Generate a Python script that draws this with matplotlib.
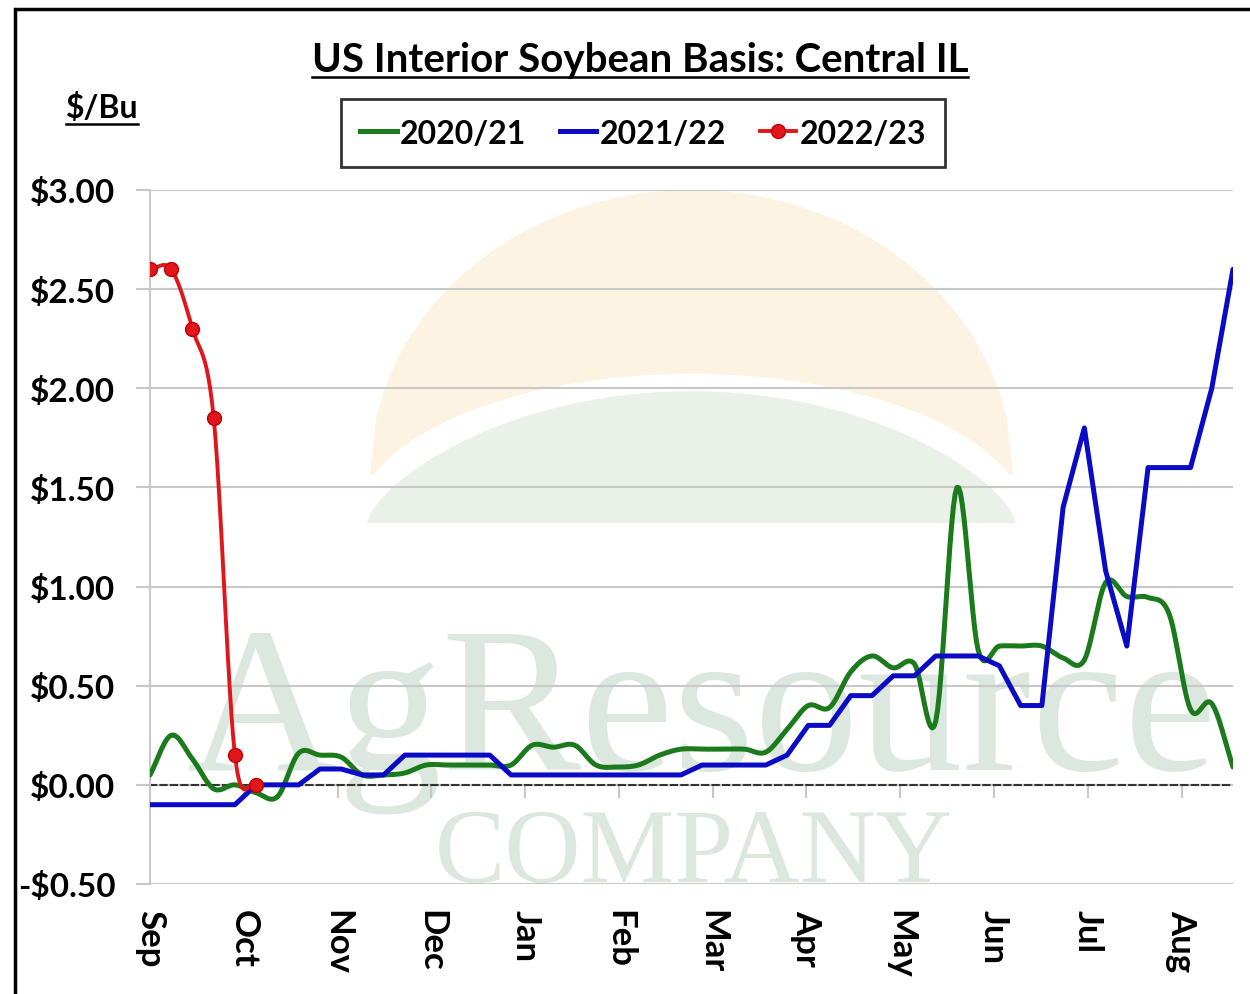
import numpy as np
import matplotlib.pyplot as plt
from matplotlib.lines import Line2D
from matplotlib.patches import Polygon, Rectangle

plt.rcParams['font.family'] = ['Lato', 'DejaVu Sans']
plt.rcParams['font.weight'] = 'bold'

months = ['Sep', 'Oct', 'Nov', 'Dec', 'Jan', 'Feb', 'Mar', 'Apr', 'May', 'Jun', 'Jul', 'Aug']
y_ticks = [-0.5, 0.0, 0.5, 1.0, 1.5, 2.0, 2.5, 3.0]
y_labels = ['-$0.50', '$0.00', '$0.50', '$1.00', '$1.50', '$2.00', '$2.50', '$3.00']

# weekly basis, $/bu
basis_2021 = [0.05, 0.25, 0.13, -0.02, 0.00, -0.04, -0.06, 0.16, 0.15, 0.14,
              0.05, 0.05, 0.06, 0.10, 0.10, 0.10, 0.10, 0.10, 0.20, 0.19,
              0.20, 0.10, 0.09, 0.10, 0.15, 0.18, 0.18, 0.18, 0.18, 0.165,
              0.28, 0.40, 0.39, 0.57, 0.65, 0.59, 0.61, 0.32, 1.50, 0.68,
              0.70, 0.70, 0.70, 0.64, 0.63, 1.02, 0.95, 0.945, 0.86, 0.38,
              0.41, 0.09]
basis_2122 = [-0.10, -0.10, -0.10, -0.10, -0.10, 0.00, 0.00, 0.00, 0.08, 0.08,
              0.05, 0.05, 0.15, 0.15, 0.15, 0.15, 0.15, 0.05, 0.05, 0.05,
              0.05, 0.05, 0.05, 0.05, 0.05, 0.05, 0.10, 0.10, 0.10, 0.10,
              0.15, 0.30, 0.30, 0.45, 0.45, 0.55, 0.55, 0.65, 0.65, 0.65,
              0.60, 0.40, 0.40, 1.40, 1.80, 1.08, 0.70, 1.60, 1.60, 1.60,
              2.00, 2.60]
basis_2223 = [2.60, 2.60, 2.30, 1.85, 0.15, 0.00]

green = '#1b7a1b'
blue = '#0b0bc6'
red = '#e0161b'
grid_col = '#c8c8c8'


def smooth(x, y, n=12):
    # catmull-rom curve through the points (excel "smoothed line")
    x = np.asarray(x, float)
    y = np.asarray(y, float)
    px = np.concatenate([[2 * x[0] - x[1]], x, [2 * x[-1] - x[-2]]])
    py = np.concatenate([[2 * y[0] - y[1]], y, [2 * y[-1] - y[-2]]])
    t = np.linspace(0, 1, n, endpoint=False)[:, None]
    out = []
    for p in (px, py):
        p0, p1, p2, p3 = p[:-3], p[1:-2], p[2:-1], p[3:]
        c = 0.5 * (2 * p1 + (-p0 + p2) * t + (2 * p0 - 5 * p1 + 4 * p2 - p3) * t ** 2
                   + (-p0 + 3 * p1 - 3 * p2 + p3) * t ** 3)
        out.append(np.append(c.T.ravel(), p[-2]))
    return out


W, H = 1250, 995
fig = plt.figure(figsize=(W / 100, H / 100), dpi=100)
ax = fig.add_axes([150 / W, 1 - 885 / H, 1083 / W, 694 / H])

x = np.arange(len(basis_2021))
month_pos = np.arange(len(months)) * 4.416

# watermark logo + text
hx = np.linspace(-1, 1, 100)
sun = np.column_stack([0.5 + 0.297 * hx, 0.59 + 0.41 * np.sqrt(1 - hx ** 2)])
gap = np.column_stack([0.5 + 0.31 * hx, 0.52 + 0.215 * np.sqrt(1 - hx ** 2)])
hill = np.column_stack([0.5 + 0.30 * hx, 0.52 + 0.19 * (1 - hx ** 2) ** 0.7])
ax.add_patch(Polygon(sun, closed=True, transform=ax.transAxes, color='#fdf3e3', lw=0, zorder=0))
ax.add_patch(Polygon(gap, closed=True, transform=ax.transAxes, color='white', lw=0, zorder=0.1))
ax.add_patch(Polygon(hill, closed=True, transform=ax.transAxes, color='#e9f1e8', lw=0, zorder=0.2))
ax.text(0.51, 0.166, 'AgResource', transform=ax.transAxes, family='Liberation Serif',
        fontweight='normal', fontsize=150, color='#dbe7df', ha='center', va='baseline',
        zorder=0.3)
ax.text(0.502, 0.004, 'COMPANY', transform=ax.transAxes, family='Liberation Serif',
        fontweight='normal', fontsize=76, color='#dbe7df', ha='center', va='baseline',
        zorder=0.3)

sx, sy = smooth(x, basis_2021)
ax.plot(sx, sy, color=green, lw=3.6, solid_capstyle='round', zorder=3)
ax.plot(x, basis_2122, color=blue, lw=3.6, solid_capstyle='round', zorder=4)
rx, ry = smooth(x[:len(basis_2223)], basis_2223)
ax.plot(rx, ry, color=red, lw=2.8, zorder=5)
ax.plot(x[:len(basis_2223)], basis_2223, 'o', ms=10, mfc=red, mec='#c00000', mew=1, zorder=6)

ax.set_xlim(0, len(x) - 1)
ax.set_ylim(-0.5, 3.0)
ax.set_yticks(y_ticks, y_labels)
ax.yaxis.grid(True, color=grid_col, lw=1.5, zorder=1)
ax.set_axisbelow(True)
ax.tick_params(axis='y', length=10, width=1.5, color=grid_col, pad=15, labelsize=24)

for s in ['top', 'right']:
    ax.spines[s].set_visible(False)
ax.spines['left'].set_color(grid_col)
ax.spines['left'].set_linewidth(1.5)
ax.spines['bottom'].set_position(('data', 0))
ax.spines['bottom'].set_linestyle((0, (3, 2)))
ax.spines['bottom'].set_color('#333333')
ax.spines['bottom'].set_linewidth(1.5)
ax.spines['bottom'].set_zorder(2)

ax.set_xticks(month_pos)
ax.tick_params(axis='x', length=9, width=1.5, color=grid_col, labelbottom=False)
sec = ax.secondary_xaxis('bottom')
sec.set_xticks(month_pos, months)
sec.tick_params(axis='x', length=0, pad=18, labelsize=25, labelrotation=-90)
sec.spines['bottom'].set_visible(False)

# title and unit label, underlined
title = fig.text(640 / W, 1 - 72 / H, 'US Interior Soybean Basis: Central IL',
                 ha='center', va='baseline', fontsize=29, fontweight='bold')
unit = fig.text(102 / W, 1 - 118 / H, '$/Bu', ha='center', va='baseline',
                fontsize=23, fontweight='bold')
fig.canvas.draw()
inv = fig.transFigure.inverted()
for t, uy in [(title, 78), (unit, 125)]:
    bb = t.get_window_extent().transformed(inv)
    fig.add_artist(Line2D([bb.x0, bb.x1], [1 - uy / H, 1 - uy / H], color='black',
                          lw=1.8, transform=fig.transFigure))

handles = [Line2D([], [], color=green, lw=3.6),
           Line2D([], [], color=blue, lw=3.6),
           Line2D([], [], color=red, lw=2.8, marker='o', ms=10, mfc=red, mec='#c00000')]
leg = fig.legend(handles, ['2020/21', '2021/22', '2022/23'], loc='center',
                 bbox_to_anchor=(643 / W, 1 - 134 / H), ncol=3, frameon=True,
                 fancybox=False, edgecolor='black', fontsize=23, handlelength=1.15,
                 handletextpad=0.1, columnspacing=1.05, borderpad=0.6, numpoints=1)
leg.get_frame().set_linewidth(2)

# outer frame of the picture
fig.add_artist(Rectangle((15 / W, -0.05), 1.1, 1 - 10 / H + 0.05, transform=fig.transFigure,
                         fill=False, edgecolor='black', lw=2.5))

fig.savefig('out.png', dpi=100)
